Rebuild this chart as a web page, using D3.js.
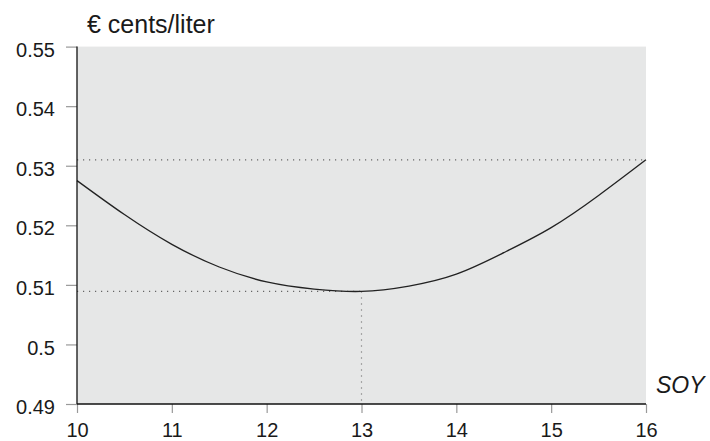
<!DOCTYPE html>
<html>
<head>
<meta charset="utf-8">
<script src="https://cdn.jsdelivr.net/npm/d3@7"></script>
<style>
  html, body { margin: 0; padding: 0; background: #fff; }
  svg text { font-family: "Liberation Sans", "DejaVu Sans", sans-serif; fill: #1a1a1a; }
</style>
</head>
<body>
<svg id="chart" width="710" height="441"></svg>
<script>
// Price per liter as a function of SOY share
const soy = [10, 10.5, 11, 11.5, 12, 12.5, 13, 13.5, 14, 14.5, 15, 15.5, 16];
const price = [0.5275, 0.5218, 0.5168, 0.5130, 0.5105, 0.5093, 0.5089, 0.5098, 0.5118, 0.5154, 0.5196, 0.5250, 0.5310];
const xTicks = [10, 11, 12, 13, 14, 15, 16];
const yTicks = [0.49, 0.5, 0.51, 0.52, 0.53, 0.54, 0.55];
const yTickLabels = ["0.49", "0.5", "0.51", "0.52", "0.53", "0.54", "0.55"];
const minPoint = { x: 13, y: 0.5089 };
const endLevel = 0.531;

const svg = d3.select("#chart");
const plotLeft = 77, plotRight = 646, plotTop = 46.6, plotBottom = 404;

const x = d3.scaleLinear().domain([10, 16]).range([plotLeft, plotRight]);
const y = d3.scaleLinear().domain([0.49, 0.55]).range([plotBottom, plotTop]);

// plot background
svg.append("rect")
  .attr("x", plotLeft).attr("y", plotTop)
  .attr("width", plotRight - plotLeft).attr("height", plotBottom - plotTop)
  .attr("fill", "#e6e7e7");

// reference lines
const dotted = svg.append("g")
  .attr("stroke", "#666").attr("stroke-width", 1.2)
  .attr("stroke-dasharray", "1.2,4.8").attr("fill", "none");
dotted.append("line")
  .attr("x1", x(10)).attr("x2", x(16))
  .attr("y1", y(endLevel)).attr("y2", y(endLevel));
dotted.append("line")
  .attr("x1", x(10)).attr("x2", x(minPoint.x))
  .attr("y1", y(minPoint.y)).attr("y2", y(minPoint.y));
dotted.append("line")
  .attr("x1", x(minPoint.x)).attr("x2", x(minPoint.x))
  .attr("y1", y(minPoint.y)).attr("y2", y(0.49));

// curve
const line = d3.line()
  .x((d, i) => x(soy[i]))
  .y(d => y(d))
  .curve(d3.curveNatural);
svg.append("path")
  .datum(price)
  .attr("d", line)
  .attr("fill", "none")
  .attr("stroke", "#222")
  .attr("stroke-width", 1.3);

// axes
const yAxis = d3.axisLeft(y)
  .tickValues(yTicks)
  .tickFormat((d, i) => yTickLabels[i])
  .tickSize(11).tickPadding(11);
const gy = svg.append("g").attr("transform", `translate(${plotLeft},0)`).call(yAxis);
gy.select(".domain").remove();
gy.selectAll(".tick line").attr("stroke", "#999").attr("stroke-width", 1.2);
gy.selectAll(".tick text").attr("font-size", 20).attr("dy", "0.48em").attr("fill", "#1a1a1a");

const xAxis = d3.axisBottom(x)
  .tickValues(xTicks)
  .tickFormat(d3.format("d"))
  .tickSize(9).tickPadding(10);
const gx = svg.append("g").attr("transform", `translate(0,${plotBottom})`).call(xAxis);
gx.select(".domain").remove();
gx.selectAll(".tick line").attr("stroke", "#999").attr("stroke-width", 1.2);
gx.selectAll(".tick text").attr("font-size", 20).attr("dy", "0.71em").attr("fill", "#1a1a1a");

// axis lines
svg.append("line")
  .attr("x1", plotLeft).attr("x2", plotLeft).attr("y1", plotTop).attr("y2", plotBottom)
  .attr("stroke", "#111").attr("stroke-width", 1.3);
svg.append("line")
  .attr("x1", plotLeft).attr("x2", plotRight).attr("y1", plotBottom).attr("y2", plotBottom)
  .attr("stroke", "#111").attr("stroke-width", 1.3);

// axis titles
svg.append("text")
  .attr("x", 87).attr("y", 33)
  .attr("font-size", 25)
  .text("€ cents/liter");
svg.append("text")
  .attr("x", 656).attr("y", 393)
  .attr("font-size", 23)
  .attr("font-style", "italic")
  .text("SOY");
</script>
</body>
</html>
